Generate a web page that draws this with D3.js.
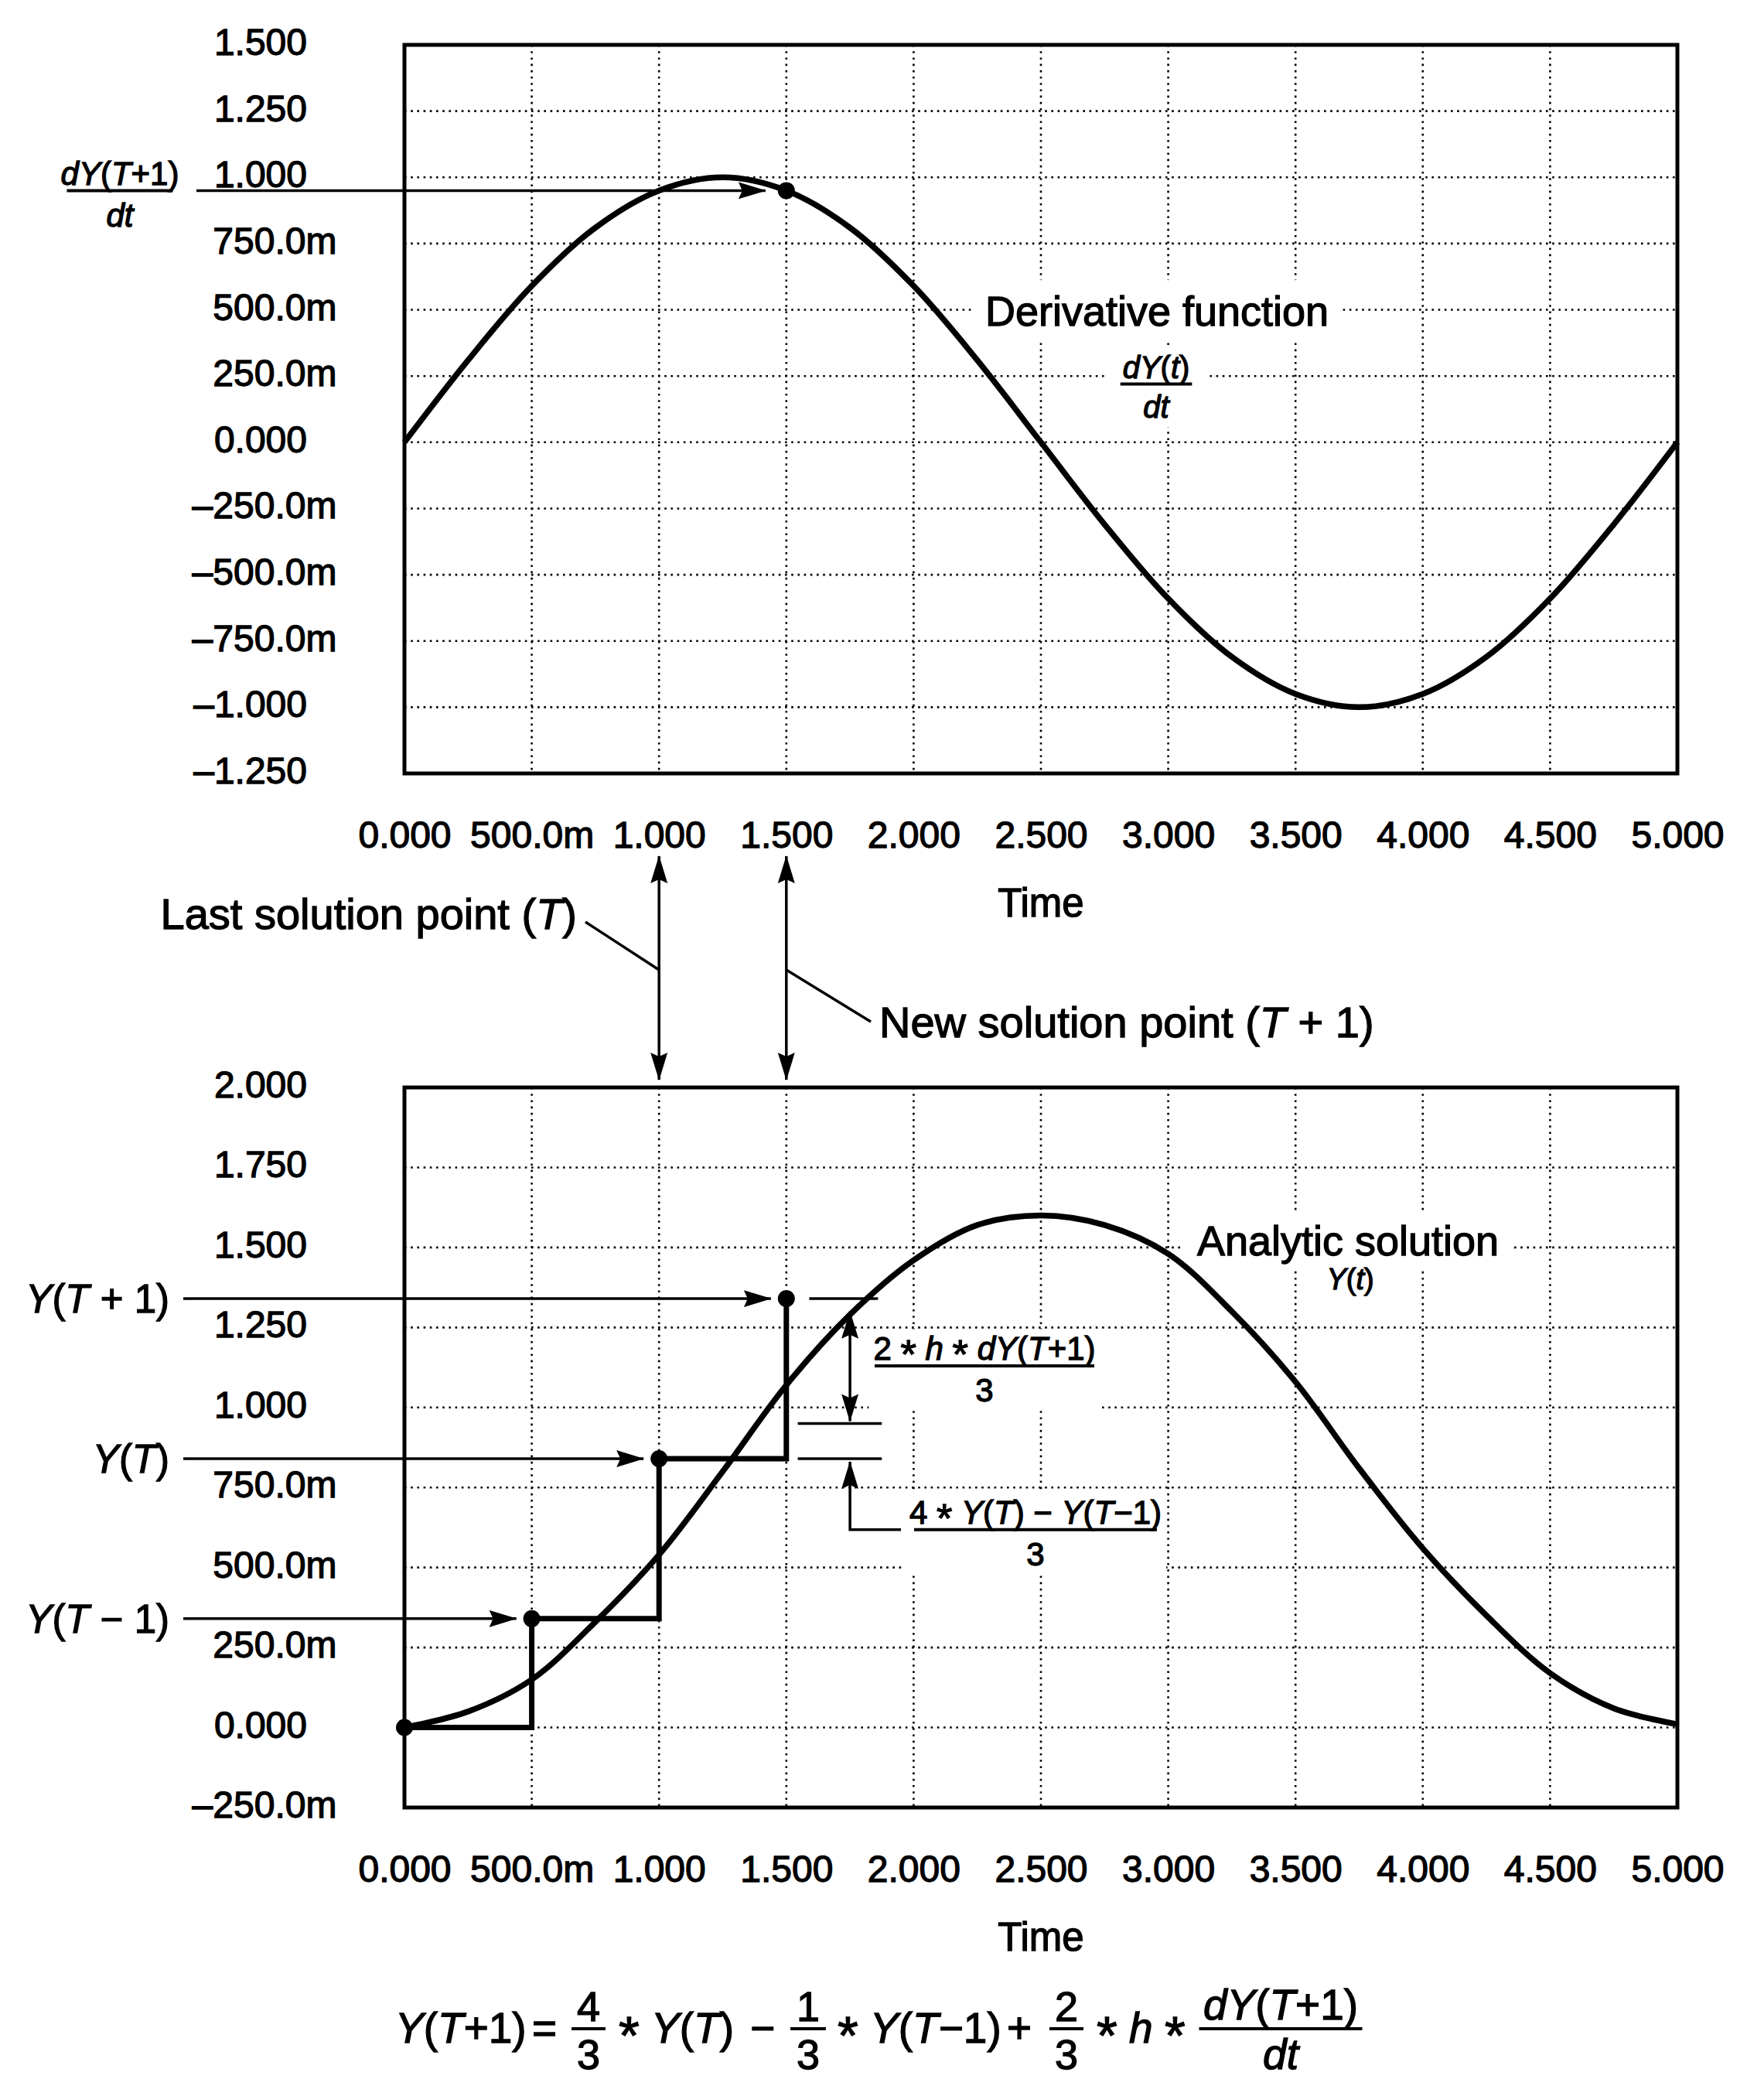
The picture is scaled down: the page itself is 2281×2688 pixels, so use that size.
<!DOCTYPE html>
<html>
<head>
<meta charset="utf-8">
<script src="https://cdn.jsdelivr.net/npm/d3@7"></script>
<style>
  body { margin: 0; background: #fff; }
  text { font-family: 'Liberation Sans', Arial, Helvetica, sans-serif; stroke: #000; stroke-width: 1.3px; }
</style>
</head>
<body>
<svg id="chart"></svg>
<script>
const W = 2281, H = 2688

// time axis (shared by both panels)
const timeTicks = [0, 0.5, 1, 1.5, 2, 2.5, 3, 3.5, 4, 4.5, 5]
const timeLabels = ['0.000', '500.0m', '1.000', '1.500', '2.000', '2.500', '3.000', '3.500', '4.000', '4.500', '5.000']

// upper panel: derivative dY/dt
const derivTicks = [1.5, 1.25, 1, 0.75, 0.5, 0.25, 0, -0.25, -0.5, -0.75, -1, -1.25]
const derivLabels = ['1.500', '1.250', '1.000', '750.0m', '500.0m', '250.0m', '0.000', '–250.0m', '–500.0m', '–750.0m', '–1.000', '–1.250']

// lower panel: solution Y
const solTicks = [2, 1.75, 1.5, 1.25, 1, 0.75, 0.5, 0.25, 0, -0.25]
const solLabels = ['2.000', '1.750', '1.500', '1.250', '1.000', '750.0m', '500.0m', '250.0m', '0.000', '–250.0m']

// curves every 0.25 s
const curveTime = [0, 0.25, 0.5, 0.75, 1, 1.25, 1.5, 1.75, 2, 2.25, 2.5, 2.75, 3, 3.25, 3.5, 3.75, 4, 4.25, 4.5, 4.75, 5]
const derivValues = [0, 0.31, 0.59, 0.81, 0.95, 1.0, 0.95, 0.81, 0.59, 0.31, 0, -0.31, -0.59, -0.81, -0.95, -1.0, -0.95, -0.81, -0.59, -0.31, 0]
const solutionValues = [0, 0.05, 0.15, 0.33, 0.54, 0.80, 1.07, 1.29, 1.46, 1.57, 1.60, 1.57, 1.48, 1.30, 1.08, 0.81, 0.56, 0.35, 0.17, 0.06, 0.01]

// solution points of the step method
const stepTime = [0, 0.5, 1, 1.5]
const stepValues = [0, 0.34, 0.84, 1.34]
const stepNames = [null, 'Y(T − 1)', 'Y(T)', 'Y(T + 1)']

// slope used at the new point
const slopeTime = 1.5
const slopeValue = 0.95

// levels of the small bracket annotation
const partLevels = [1.34, 0.95, 0.84]

const svg = d3.select('#chart')
  .attr('width', W).attr('height', H)
  .attr('viewBox', [0, 0, W, H])

svg.append('rect').attr('width', W).attr('height', H).attr('fill', '#fff')

svg.append('defs').append('marker')
    .attr('id', 'head')
    .attr('viewBox', '0 0 36 24')
    .attr('markerUnits', 'userSpaceOnUse')
    .attr('markerWidth', 36).attr('markerHeight', 24)
    .attr('refX', 35).attr('refY', 12)
    .attr('orient', 'auto-start-reverse')
  .append('path')
    .attr('d', 'M0,1L36,12L0,23L5,12Z')
    .attr('fill', '#000')

const x = d3.scaleLinear().domain([0, 5]).range([523, 2169])
const yTop = d3.scaleLinear().domain([-1.25, 1.5]).range([1000, 58])
const yBot = d3.scaleLinear().domain([-0.25, 2]).range([2337, 1406])

const gridLayer = svg.append('g')
  .attr('stroke', '#000').attr('stroke-width', 2.6).attr('stroke-dasharray', '2.6 5.6')
const knockLayer = svg.append('g').attr('fill', '#fff')
const markLayer = svg.append('g')
const textLayer = svg.append('g').attr('fill', '#000')

// letters italic, asterisks bigger and lowered to the middle, the rest upright
function math(sel, str) {
  let shifted = false
  str.split(/([A-Za-z]+|\*)/).filter(s => s).forEach(s => {
    const t = sel.append('tspan').text(s)
    if (s === '*') { t.attr('font-size', '1.25em').attr('dy', shifted ? 0 : '0.2em'); shifted = true; return }
    if (shifted) { t.attr('dy', '-0.25em'); shifted = false }
    if (/[A-Za-z]/.test(s)) t.attr('font-style', 'italic')
  })
  return sel
}

function knock(sel, px, py) {
  const b = sel.node().getBBox()
  knockLayer.append('rect')
    .attr('x', b.x - px).attr('y', b.y - py)
    .attr('width', b.width + 2 * px).attr('height', b.height + 2 * py)
}

function frac(cx, barY, num, den, size, barW, numGap, denGap) {
  const g = textLayer.append('g').attr('font-size', size).attr('text-anchor', 'middle')
  const n = math(g.append('text').attr('x', cx).attr('y', barY - (numGap ?? size * 0.18)), num)
  const d = math(g.append('text').attr('x', cx).attr('y', barY + (denGap ?? size * 1.1)), den)
  const w = barW || Math.max(n.node().getComputedTextLength(), d.node().getComputedTextLength()) + 6
  g.append('line')
    .attr('x1', cx - w / 2).attr('x2', cx + w / 2)
    .attr('y1', barY).attr('y2', barY)
    .attr('stroke', '#000').attr('stroke-width', 4)
  return g
}

function arrow(x1, y1, x2, y2, both) {
  return markLayer.append('line')
    .attr('x1', x1).attr('y1', y1).attr('x2', x2).attr('y2', y2)
    .attr('stroke', '#000').attr('stroke-width', 3.5)
    .attr('marker-end', 'url(#head)')
    .attr('marker-start', both ? 'url(#head)' : null)
}

function segment(x1, y1, x2, y2) {
  return markLayer.append('line')
    .attr('x1', x1).attr('y1', y1).attr('x2', x2).attr('y2', y2)
    .attr('stroke', '#000').attr('stroke-width', 3.5)
}

function drawPanel(y, ticks, labels) {
  const [y0, y1] = y.range()

  gridLayer.append('g').selectAll('line')
    .data(timeTicks.slice(1, -1))
    .join('line')
      .attr('x1', d => x(d)).attr('x2', d => x(d))
      .attr('y1', y1).attr('y2', y0)
  gridLayer.append('g').selectAll('line')
    .data(ticks.slice(1, -1))
    .join('line')
      .attr('x1', x(0)).attr('x2', x(5))
      .attr('y1', d => y(d)).attr('y2', d => y(d))

  markLayer.append('rect')
    .attr('x', x(0)).attr('y', y1)
    .attr('width', x(5) - x(0)).attr('height', y0 - y1)
    .attr('fill', 'none').attr('stroke', '#000').attr('stroke-width', 5)

  const ya = textLayer.append('g')
    .attr('transform', `translate(${x(0)},0)`)
    .call(d3.axisLeft(y).tickValues(ticks).tickFormat((d, i) => labels[i]).tickSize(0).tickPadding(126))
    .attr('font-size', 48)
  ya.select('.domain').remove()
  ya.selectAll('text')
    .attr('dx', (d, i) => labels[i].endsWith('m') ? '0.8em' : 0)
    .attr('dy', '0.26em')

  const xa = textLayer.append('g')
    .attr('transform', `translate(0,${y0})`)
    .call(d3.axisBottom(x).tickValues(timeTicks).tickFormat((d, i) => timeLabels[i]).tickSize(0).tickPadding(62))
    .attr('font-size', 48)
  xa.select('.domain').remove()

  textLayer.append('text')
    .attr('x', (x(0) + x(5)) / 2).attr('y', y0 + 185)
    .attr('text-anchor', 'middle').attr('font-size', 51)
    .text('Time')
}

drawPanel(yTop, derivTicks, derivLabels)
drawPanel(yBot, solTicks, solLabels)

// ---- upper panel marks
const lineTop = d3.line().x((d, i) => x(curveTime[i])).y(d => yTop(d)).curve(d3.curveCatmullRom)
markLayer.append('path').datum(derivValues)
  .attr('d', lineTop)
  .attr('fill', 'none').attr('stroke', '#000').attr('stroke-width', 7.5).attr('stroke-linejoin', 'round')

markLayer.append('circle')
  .attr('cx', x(slopeTime)).attr('cy', yTop(slopeValue)).attr('r', 11)
arrow(254, yTop(slopeValue), x(slopeTime) - 27, yTop(slopeValue))
frac(155, yTop(slopeValue), 'dY(T+1)', 'dt', 42, 137)

const dl = textLayer.append('text')
  .attr('x', 1496).attr('y', yTop(0.44))
  .attr('text-anchor', 'middle').attr('font-size', 54)
  .text('Derivative function')
knock(dl, 18, 10)
const df = frac(1495, yTop(0.22), 'dY(t)', 'dt', 40)
knock(df, 20, 4)

// ---- between the panels
arrow(x(1), 1107, x(1), 1396, true)
arrow(x(1.5), 1107, x(1.5), 1396, true)
textLayer.append('text').attr('x', 746).attr('y', 1201)
  .attr('text-anchor', 'end').attr('font-size', 56)
  .call(s => { s.append('tspan').text('Last solution point ('); s.append('tspan').attr('font-style', 'italic').text('T'); s.append('tspan').text(')') })
segment(757, 1192, x(1), 1254)
textLayer.append('text').attr('x', 1137).attr('y', 1341)
  .attr('font-size', 56)
  .call(s => { s.append('tspan').text('New solution point ('); s.append('tspan').attr('font-style', 'italic').text('T'); s.append('tspan').text(' + 1)') })
segment(x(1.5), 1254, 1126, 1321)

// ---- lower panel marks
const lineBot = d3.line().x((d, i) => x(curveTime[i])).y(d => yBot(d)).curve(d3.curveCatmullRom)
markLayer.append('path').datum(solutionValues)
  .attr('d', lineBot)
  .attr('fill', 'none').attr('stroke', '#000').attr('stroke-width', 7.5).attr('stroke-linejoin', 'round')

const steps = stepTime.map((t, i) => [t, stepValues[i]])
markLayer.append('path').datum(steps)
  .attr('d', d3.line().x(d => x(d[0])).y(d => yBot(d[1])).curve(d3.curveStepAfter))
  .attr('fill', 'none').attr('stroke', '#000').attr('stroke-width', 7)

markLayer.append('g').selectAll('circle')
  .data(steps)
  .join('circle')
    .attr('cx', d => x(d[0])).attr('cy', d => yBot(d[1])).attr('r', 11)

steps.forEach((d, i) => {
  if (!stepNames[i]) return
  arrow(237, yBot(d[1]), x(d[0]) - 20, yBot(d[1]))
  math(textLayer.append('text')
    .attr('x', 219).attr('y', yBot(d[1])).attr('dy', '0.35em')
    .attr('text-anchor', 'end').attr('font-size', 51), stepNames[i])
})

const al = textLayer.append('text')
  .attr('x', 1743).attr('y', yBot(1.50) + 10)
  .attr('text-anchor', 'middle').attr('font-size', 54)
  .text('Analytic solution')
knock(al, 18, 8)
const yl = math(textLayer.append('text')
  .attr('x', 1746).attr('y', yBot(1.37))
  .attr('text-anchor', 'middle').attr('font-size', 38), 'Y(t)')
knock(yl, 10, 2)

// bracket: new value split into its two parts
segment(x(1.59), yBot(partLevels[0]), x(1.86), yBot(partLevels[0]))
segment(x(1.545), yBot(partLevels[1]), x(1.875), yBot(partLevels[1]))
segment(x(1.545), yBot(partLevels[2]), x(1.875), yBot(partLevels[2]))
arrow(x(1.75), yBot(1.30), x(1.75), yBot(partLevels[1]) - 3, true)
markLayer.append('path')
  .attr('d', d3.line()([[x(1.75), yBot(partLevels[2]) + 4], [x(1.75), yBot(0.618)], [x(1.95), yBot(0.618)]]))
  .attr('fill', 'none').attr('stroke', '#000').attr('stroke-width', 3.5)
  .attr('marker-start', 'url(#head)')

const f1 = frac(1273, yBot(1.13), '2 * h * dY(T+1)', '3', 42, 284)
knock(f1, 6, 2)
const f2 = frac(1339, yBot(0.618), '4 * Y(T) − Y(T−1)', '3', 42, 314)
knock(f2, 6, 2)

// ---- formula at the bottom
const fy = 2641, bar = 2623
const eq = textLayer.append('g').attr('font-size', 55)
math(eq.append('text').attr('x', 511).attr('y', fy), 'Y(T+1)')
eq.append('text').attr('x', 704).attr('y', fy).attr('text-anchor', 'middle').text('=')
frac(761, bar, '4', '3', 54, 44, 10, 52)
math(eq.append('text').attr('x', 800).attr('y', fy), '* Y(T)')
eq.append('text').attr('x', 986).attr('y', fy).attr('text-anchor', 'middle').text('−')
frac(1045, bar, '1', '3', 54, 46, 10, 52)
math(eq.append('text').attr('x', 1083).attr('y', fy), '* Y(T−1)')
eq.append('text').attr('x', 1318).attr('y', fy).attr('text-anchor', 'middle').text('+')
frac(1379, bar, '2', '3', 54, 44, 10, 52)
math(eq.append('text').attr('x', 1418).attr('y', fy), '* h *')
frac(1656, bar, 'dY(T+1)', 'dt', 55, 211, 12, 52)
</script>
</body>
</html>
